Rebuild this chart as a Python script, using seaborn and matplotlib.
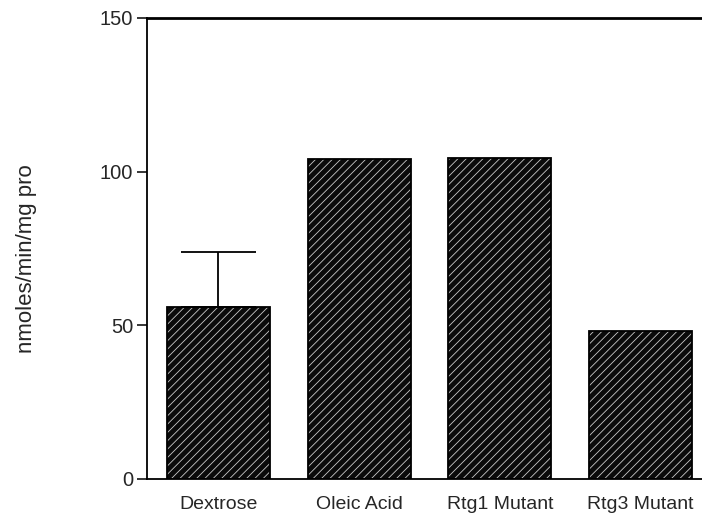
import matplotlib
matplotlib.use("Agg")
import matplotlib.pyplot as plt
import seaborn as sns
import pandas as pd
from matplotlib.patches import Rectangle

categories = ["Dextrose", "Oleic Acid", "Rtg1 Mutant", "Rtg3 Mutant"]
values = [56, 104, 104.5, 48]
err_upper = [18, 0, 0, 0]
yticks = [0, 50, 100, 150]

sns.set_theme(style="white")
plt.rcParams["font.family"] = ["Liberation Sans", "DejaVu Sans"]
plt.rcParams["hatch.linewidth"] = 0.6

df = pd.DataFrame({"cat": categories, "val": values})

fig = plt.figure(figsize=(7.02, 5.15), dpi=100)
ax = fig.add_axes([147/702, 36/515, 555/702, 461/515])

sns.barplot(data=df, x="cat", y="val", ax=ax, width=0.73, color="#0a0a0a",
            errorbar=None, saturation=1)

for p in ax.patches:
    p.set_hatch("////")
    p.set_edgecolor("#c8c8c8")
    p.set_linewidth(0)
    ax.add_patch(Rectangle(p.get_xy(), p.get_width(), p.get_height(),
                           fill=False, edgecolor="black", linewidth=1.3, zorder=3))

# error bar (upper only) for Dextrose
for i, (v, e) in enumerate(zip(values, err_upper)):
    if e > 0:
        ax.errorbar(i, v, yerr=[[0], [e]], fmt="none", ecolor="black",
                    elinewidth=1.3, capsize=27, capthick=1.3, zorder=4)

ax.set_xlim(-0.508, 3.437)
ax.set_ylim(0, 150)
ax.set_yticks(yticks)
ax.set_yticklabels([str(t) for t in yticks], fontsize=14.5)
ax.tick_params(axis="y", direction="out", length=7, width=1.3, left=True, pad=3)
ax.tick_params(axis="x", length=0, labelsize=14, pad=12.5)
ax.set_xlabel("")
ax.set_ylabel("nmoles/min/mg pro", fontsize=16)
ax.yaxis.set_label_coords(-0.198, 0.479)

for s in ["left", "bottom"]:
    ax.spines[s].set_linewidth(1.3)
    ax.spines[s].set_color("black")
ax.spines["top"].set_linewidth(2)
ax.spines["top"].set_color("black")
ax.spines["right"].set_visible(False)

fig.savefig("out.png", dpi=100)
